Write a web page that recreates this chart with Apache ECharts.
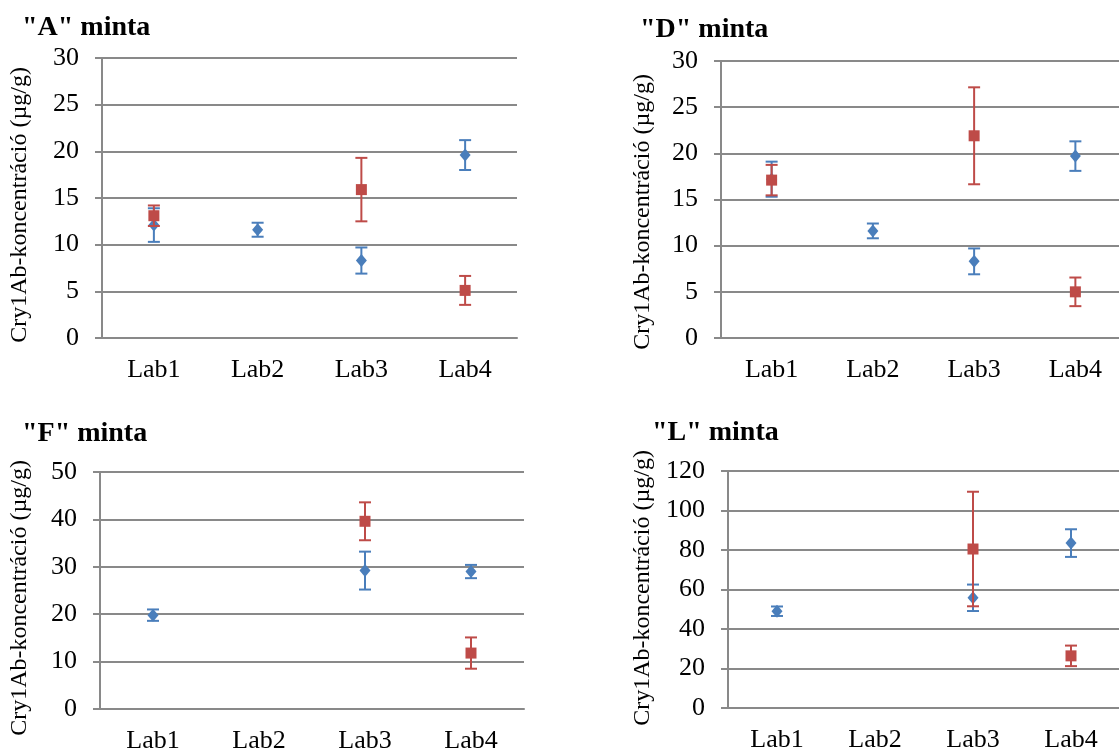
<!DOCTYPE html>
<html>
<head>
<meta charset="utf-8">
<script src="https://cdn.jsdelivr.net/npm/echarts@6/dist/echarts.min.js"></script>
<style>
  html, body { margin: 0; padding: 0; background: #fff; }
  #chart { width: 1119px; height: 752px; }
</style>
</head>
<body>
<div id="chart"></div>
<script>
// labs on the x axis
var labs = ['Lab1', 'Lab2', 'Lab3', 'Lab4'];

// "A" minta
var blueA = [12.1, 11.6, 8.3, 19.6];
var blueAErr = [1.8, 0.75, 1.4, 1.6];
var redA = [13.1, null, 15.9, 5.1];
var redAErr = [1.1, null, 3.4, 1.55];

// "D" minta
var blueD = [17.2, 11.6, 8.3, 19.7];
var blueDErr = [1.9, 0.8, 1.4, 1.6];
var redD = [17.1, null, 21.9, 5.0];
var redDErr = [1.65, null, 5.25, 1.55];

// "F" minta
var blueF = [19.8, null, 29.2, 29.0];
var blueFErr = [1.2, null, 4.0, 1.4];
var redF = [null, null, 39.6, 11.8];
var redFErr = [null, null, 4.0, 3.3];

// "L" minta
var blueL = [49.0, null, 55.8, 83.5];
var blueLErr = [2.4, null, 6.7, 7.0];
var redL = [null, null, 80.5, 26.4];
var redLErr = [null, null, 29, 5.2];

var yMax = [30, 30, 50, 120];
var yStep = [5, 5, 10, 20];
var titles = ['"A" minta', '"D" minta', '"F" minta', '"L" minta'];
var yName = 'Cry1Ab-koncentráció (µg/g)';

var BLUE = '#4a7ebb';
var RED = '#be4b48';
var GRAY = '#898989';
var FONT = '"Liberation Serif", "Times New Roman", serif';

var chart = echarts.init(document.getElementById('chart'));

var grids = [
  { left: 102, top: 58, width: 415, height: 280 },
  { left: 721, top: 61, width: 405, height: 277 },
  { left: 100, top: 472, width: 424, height: 237 },
  { left: 728, top: 471, width: 392, height: 237 }
].map(function (g) { g.outerBoundsMode = 'none'; g.containLabel = false; return g; });

function points(vals) {
  return vals.map(function (v, i) { return v == null ? [i, '-'] : [i, v]; });
}
function bars(vals, errs) {
  var out = [];
  vals.forEach(function (v, i) {
    if (v != null) out.push([i, v - errs[i], v + errs[i]]);
  });
  return out;
}

function errorBars(idx, data, color, z) {
  return {
    type: 'custom',
    xAxisIndex: idx,
    yAxisIndex: idx,
    z: z,
    data: data,
    renderItem: function (params, api) {
      var lo = api.coord([api.value(0), api.value(1)]);
      var hi = api.coord([api.value(0), api.value(2)]);
      var w = 6;
      var st = { stroke: color, lineWidth: 2 };
      return {
        type: 'group',
        children: [
          { type: 'line', shape: { x1: hi[0], y1: hi[1], x2: lo[0], y2: lo[1] }, style: st },
          { type: 'line', shape: { x1: hi[0] - w, y1: hi[1], x2: hi[0] + w, y2: hi[1] }, style: st },
          { type: 'line', shape: { x1: lo[0] - w, y1: lo[1], x2: lo[0] + w, y2: lo[1] }, style: st }
        ]
      };
    }
  };
}

var sets = [
  [blueA, blueAErr, redA, redAErr],
  [blueD, blueDErr, redD, redDErr],
  [blueF, blueFErr, redF, redFErr],
  [blueL, blueLErr, redL, redLErr]
];

var xAxes = [], yAxes = [], series = [];
sets.forEach(function (s, i) {
  xAxes.push({
    type: 'category',
    gridIndex: i,
    data: labs,
    axisLine: { lineStyle: { color: GRAY, width: 2 } },
    axisTick: { length: 7, lineStyle: { color: GRAY, width: 2 } },
    axisLabel: { color: '#000', fontFamily: FONT, fontSize: 26, margin: 19 }
  });
  yAxes.push({
    type: 'value',
    gridIndex: i,
    min: 0,
    max: yMax[i],
    interval: yStep[i],
    axisLine: { show: true, lineStyle: { color: GRAY, width: 2 } },
    axisTick: { show: true, length: 7, lineStyle: { color: GRAY, width: 2 } },
    splitLine: { lineStyle: { color: GRAY, width: 2 } },
    axisLabel: { color: '#000', fontFamily: FONT, fontSize: 26, margin: 23 }
  });
  series.push(errorBars(i, bars(s[0], s[1]), BLUE, 3));
  series.push({
    type: 'scatter', xAxisIndex: i, yAxisIndex: i, z: 4,
    symbol: 'diamond', symbolSize: [11, 13],
    itemStyle: { color: BLUE, opacity: 1 },
    data: points(s[0])
  });
  series.push(errorBars(i, bars(s[2], s[3]), RED, 5));
  series.push({
    type: 'scatter', xAxisIndex: i, yAxisIndex: i, z: 6,
    symbol: 'rect', symbolSize: 11,
    itemStyle: { color: RED, opacity: 1 },
    data: points(s[2])
  });
});

var titlePos = [[22, 28], [640, 30], [22, 434], [652, 433]];
var namePos = [[20, 205], [643, 212], [20, 598], [643, 588]];
var graphics = [];
titles.forEach(function (t, i) {
  graphics.push({
    type: 'text', x: titlePos[i][0], y: titlePos[i][1],
    style: { text: t, font: 'bold 28px ' + FONT, fill: '#000', textVerticalAlign: 'middle' }
  });
  graphics.push({
    type: 'text', x: namePos[i][0], y: namePos[i][1], rotation: Math.PI / 2,
    style: { text: yName, font: '24px ' + FONT, fill: '#000', textAlign: 'center', textVerticalAlign: 'middle' }
  });
});

chart.setOption({
  animation: false,
  backgroundColor: '#fff',
  grid: grids,
  xAxis: xAxes,
  yAxis: yAxes,
  series: series,
  graphic: graphics
});
window.addEventListener('resize', chart.resize);
</script>
</body>
</html>
